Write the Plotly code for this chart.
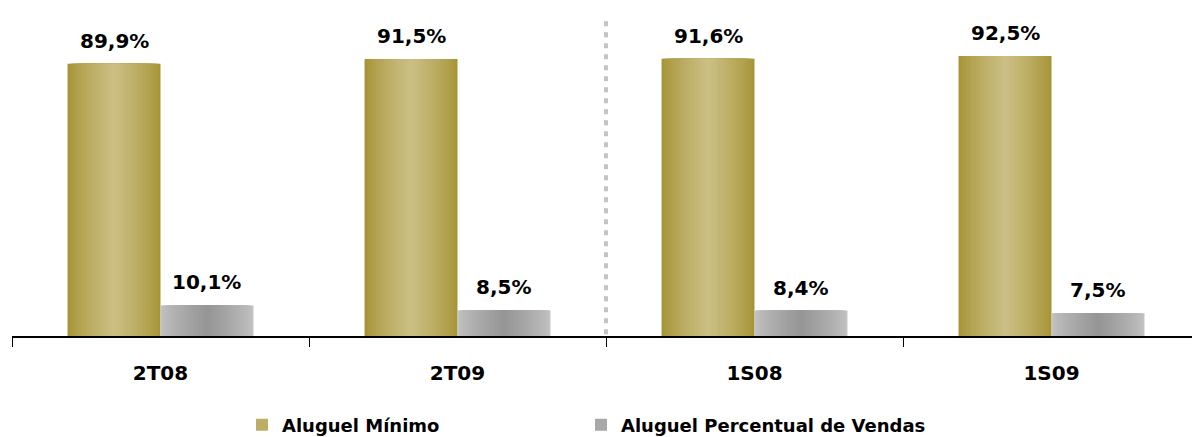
import plotly.graph_objects as go

# Categories and series values (%)
categories = ["2T08", "2T09", "1S08", "1S09"]
aluguel_minimo = [89.9, 91.5, 91.6, 92.5]
aluguel_percentual = [10.1, 8.5, 8.4, 7.5]
series_names = ["Aluguel Mínimo", "Aluguel Percentual de Vendas"]

FONT = "DejaVu Sans"
BAR_W = 0.313
N_LAYERS = 24


def lerp_color(c1, c2, t):
    r = [round(a + (b - a) * t) for a, b in zip(c1, c2)]
    return "rgb({},{},{})".format(*r)


def shaded_bars(fig, values, offset, edge, center, name, legend_id):
    # Cylinder-like shading: nested bars, each narrower and closer to the centre colour
    for k in range(N_LAYERS):
        t = k / (N_LAYERS - 1)
        frac = 1 - k / N_LAYERS
        w = BAR_W * frac
        fig.add_trace(go.Bar(
            x=categories,
            y=values,
            width=[w] * len(values),
            offset=[offset + (BAR_W - w) / 2] * len(values),
            marker=dict(color=lerp_color(edge, center, t ** 0.8), line=dict(width=0)),
            name=name,
            legendgroup=name,
            legend=legend_id,
            showlegend=(k == N_LAYERS // 2),
            hoverinfo="skip",
        ))


fig = go.Figure()
shaded_bars(fig, aluguel_minimo, -BAR_W, (166, 148, 54), (203, 191, 132), series_names[0], "legend")
shaded_bars(fig, aluguel_percentual, 0.0, (194, 194, 194), (150, 150, 150), series_names[1], "legend2")

# Value labels above each bar
for series, off in ((aluguel_minimo, -BAR_W / 2), (aluguel_percentual, BAR_W / 2)):
    for i, v in enumerate(series):
        fig.add_annotation(
            x=i + off, y=v, xref="x", yref="y",
            text="{:.1f}%".format(v).replace(".", ","),
            showarrow=False, yanchor="bottom", yshift=9,
            font=dict(family=FONT, size=20, color="#000000", weight="bold"),
        )

# Dotted separator between the quarterly and half-year groups
fig.add_shape(
    type="line", xref="x", yref="y",
    x0=1.5, x1=1.5, y0=0.6, y1=106,
    line=dict(color="#C4C4C4", width=4, dash="5px,6px"),
)

legend_style = dict(
    orientation="h",
    xref="container", xanchor="left",
    yref="container", y=12 / 437, yanchor="middle",
    font=dict(family=FONT, size=18, color="#000000", weight="bold"),
    itemclick=False, itemdoubleclick=False,
    bgcolor="rgba(0,0,0,0)",
)

fig.update_layout(
    width=1192, height=437,
    margin=dict(l=12, r=0, t=0, b=101, autoexpand=False),
    paper_bgcolor="white", plot_bgcolor="white",
    barmode="overlay",
    showlegend=True,
    legend=dict(legend_style, x=242 / 1192),
    legend2=dict(legend_style, x=581 / 1192),
    xaxis=dict(
        type="category",
        range=[-0.5, -0.5 + 1180 / 297],
        showline=True, linecolor="#000000", linewidth=1.5,
        ticks="outside", tickson="boundaries", ticklen=9, tickcolor="#000000", tickwidth=1.2,
        tickfont=dict(family=FONT, size=20, color="#000000", weight="bold"),
        ticklabelstandoff=18,
        showgrid=False, zeroline=False, fixedrange=True,
    ),
    yaxis=dict(
        range=[0, 111],
        visible=False, showgrid=False, zeroline=False, fixedrange=True,
    ),
)

fig.write_html("out.html")
